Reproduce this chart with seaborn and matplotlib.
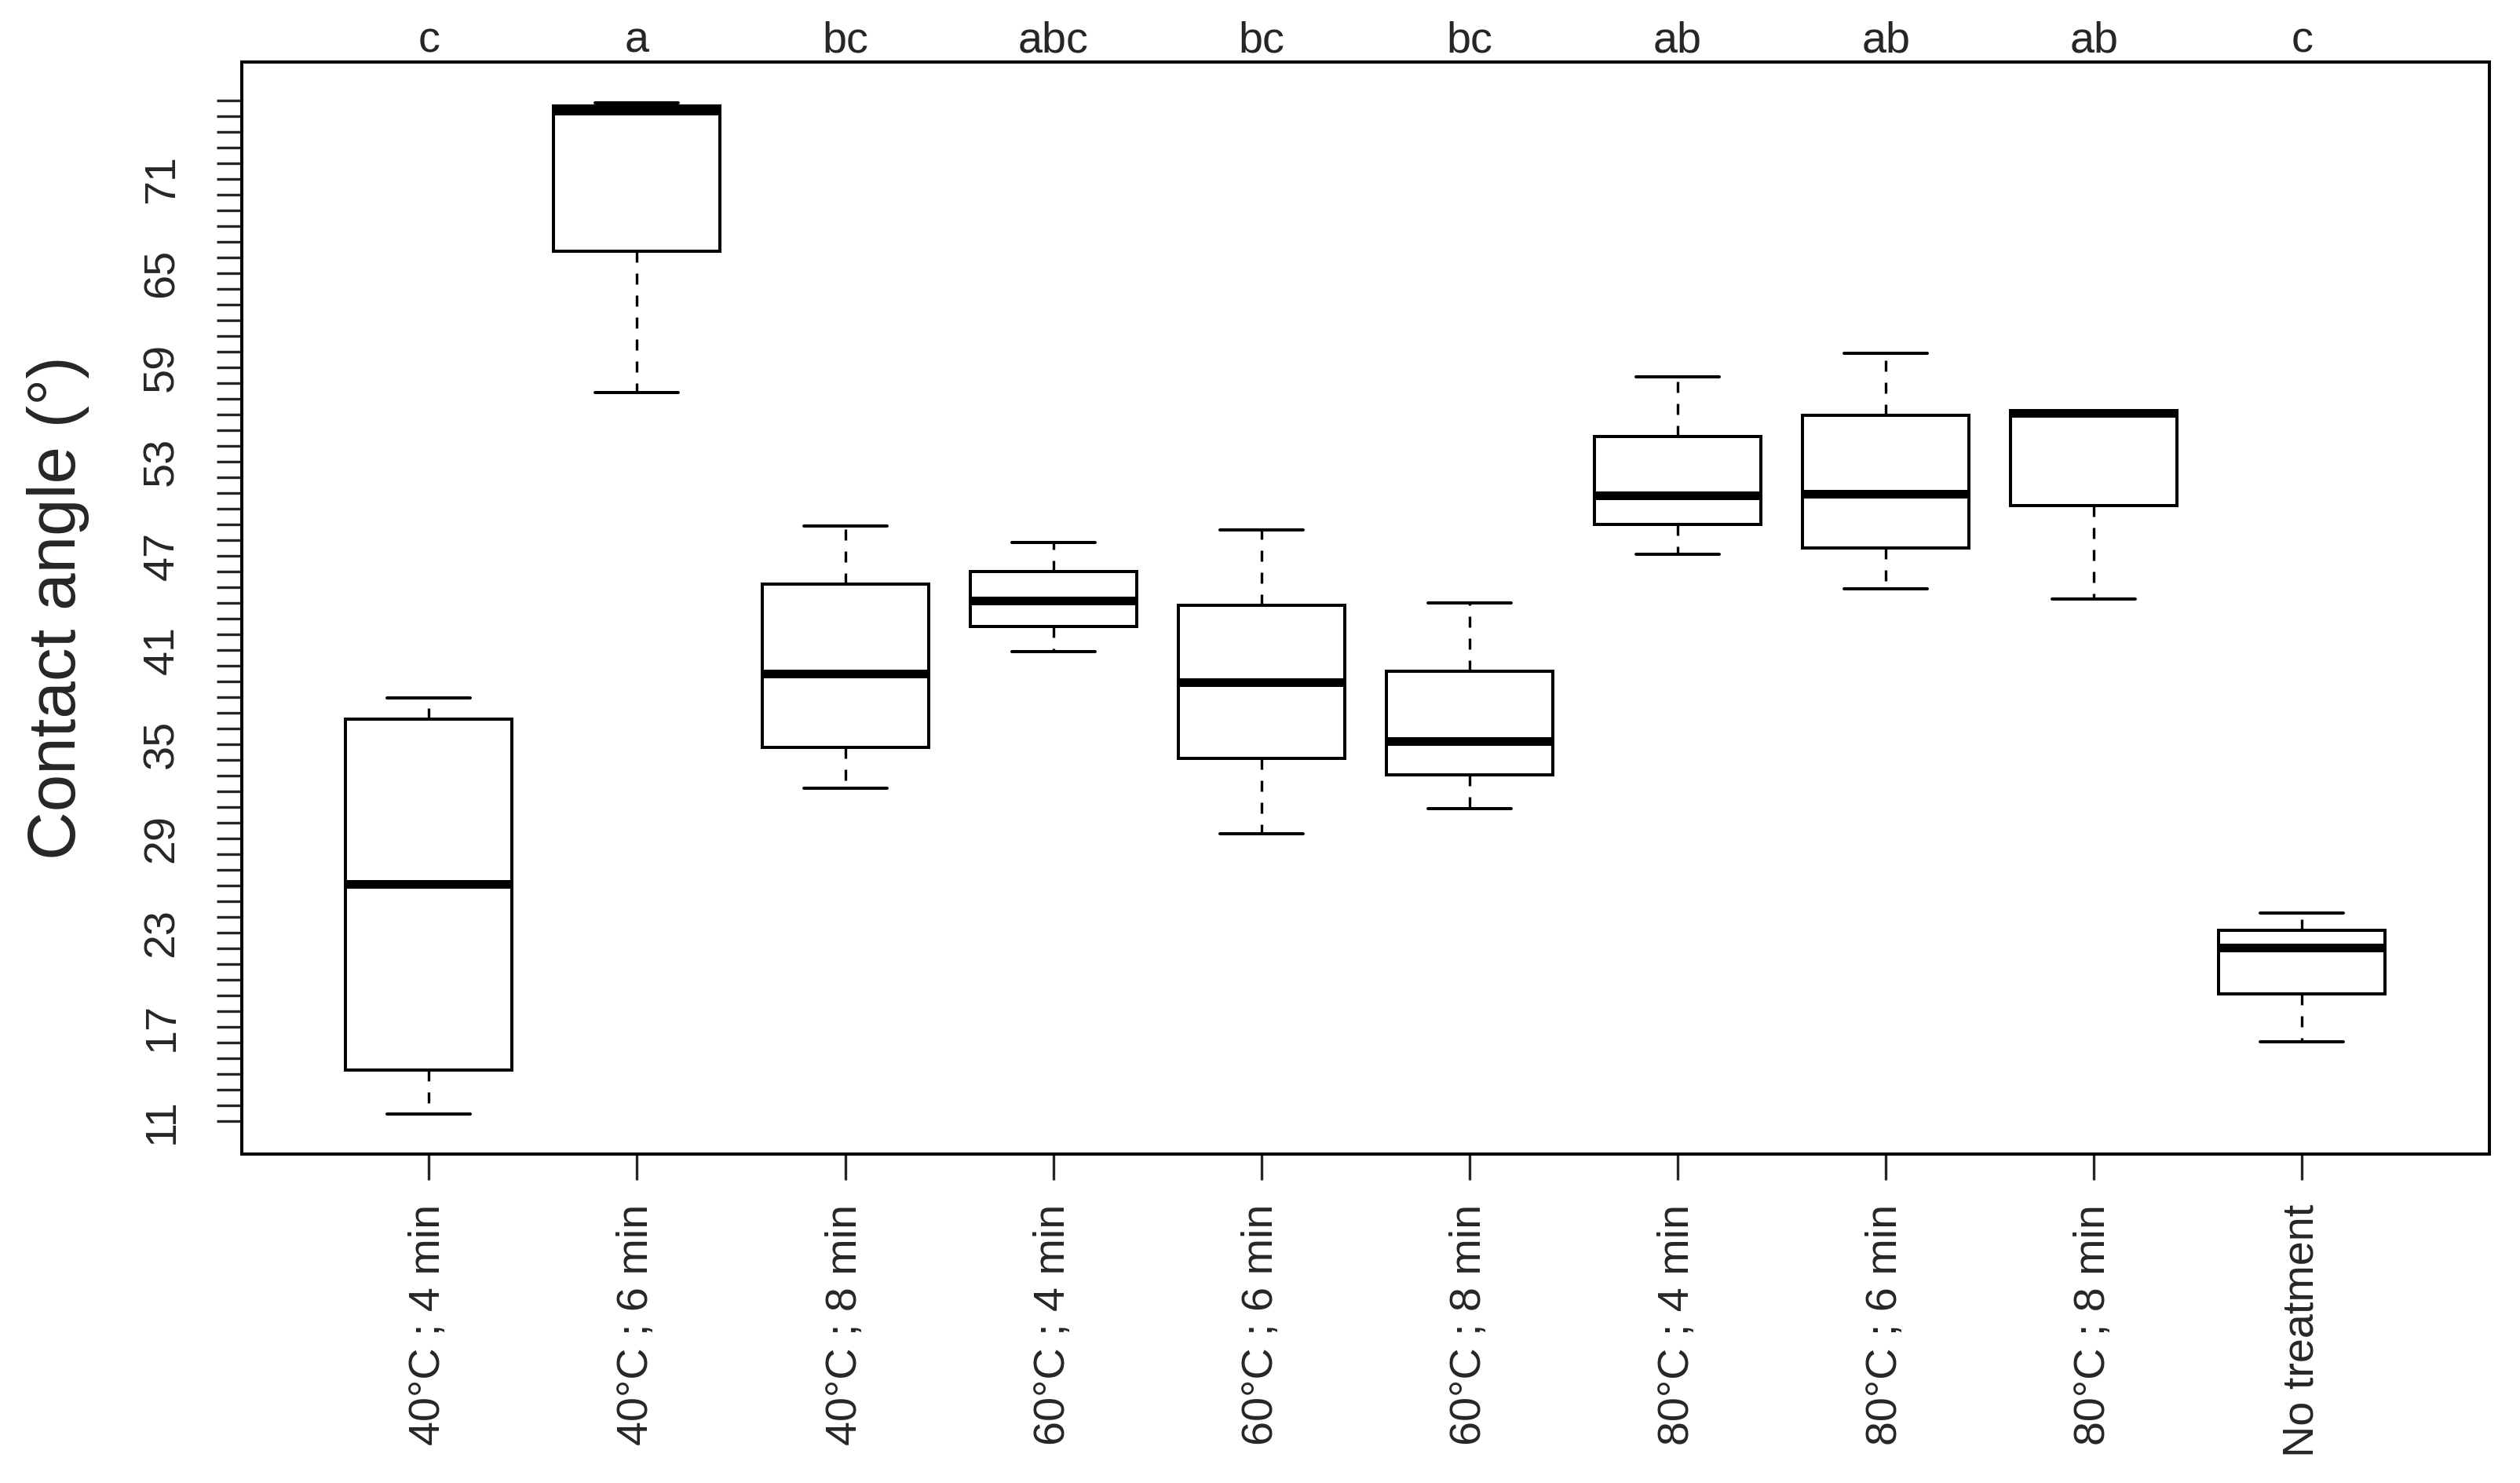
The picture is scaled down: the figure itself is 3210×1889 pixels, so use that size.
import matplotlib
matplotlib.use("Agg")
import matplotlib.pyplot as plt
import matplotlib.ticker as mticker
import numpy as np
import pandas as pd
import seaborn as sns

# treatments, in plotting order
groups = ["40°C ; 4 min", "40°C ; 6 min", "40°C ; 8 min",
          "60°C ; 4 min", "60°C ; 6 min", "60°C ; 8 min",
          "80°C ; 4 min", "80°C ; 6 min", "80°C ; 8 min",
          "No treatment"]

# five-number summaries (contact angle, degrees)
mins    = [11.46, 57.4, 32.2, 40.9, 29.3, 30.9, 47.1, 44.9, 44.25, 16.05]
q1s     = [14.23, 66.4, 34.8, 42.5, 34.1, 33.05, 49.0, 47.5, 50.2, 19.1]
medians = [26.1, 75.35, 39.5, 44.15, 38.95, 35.2, 50.85, 50.95, 56.1, 22.05]
q3s     = [36.6, 75.63, 45.2, 46.0, 43.85, 39.65, 54.6, 55.95, 56.22, 23.15]
maxs    = [37.95, 75.85, 48.9, 47.85, 48.65, 44.0, 58.4, 59.9, 56.22, 24.25]

# significance letters shown above each box
letters = ["c", "a", "bc", "abc", "bc", "bc", "ab", "ab", "ab", "c"]

y_ticks = list(range(11, 77))
y_labelled = [11, 17, 23, 29, 35, 41, 47, 53, 59, 65, 71]

# long-form table: with 5 points per group the quartiles land exactly on q1/q3
rows = []
for g, a, b, c, d, e in zip(groups, mins, q1s, medians, q3s, maxs):
    for v in (a, b, c, d, e):
        rows.append({"group": g, "angle": v})
df = pd.DataFrame(rows)

sns.set_style("ticks")
plt.rcParams["font.family"] = ["Liberation Sans", "DejaVu Sans"]

fig = plt.figure(figsize=(10.7, 6.2967), dpi=300)
ax = fig.add_axes([0.09586, 0.2218, 0.89199, 0.7362])

sns.boxplot(data=df, x="group", y="angle", order=groups, ax=ax,
            color="white", linecolor="black", linewidth=0.96, width=0.8,
            whis=np.inf, fliersize=0, saturation=1,
            medianprops=dict(linewidth=2.64, solid_capstyle="butt"),
            whiskerprops=dict(linewidth=0.8, linestyle=(0, (4.2, 4.2))),
            capprops=dict(linewidth=0.96, solid_capstyle="round"))

ax.set_xlim(-0.9, 9.9)
ax.set_ylim(8.885, 78.42)

ax.yaxis.set_major_locator(mticker.FixedLocator(y_ticks))
ax.set_yticklabels([str(v) if v in y_labelled else "" for v in y_ticks],
                   rotation=90, va="center", fontsize=13.4)
ax.tick_params(axis="y", length=7.7, width=0.8, pad=10.3)
ax.tick_params(axis="x", length=8.0, width=0.8, pad=7.3)
ax.set_xticks(range(len(groups)))
ax.set_xticklabels(groups, rotation=90, fontsize=13.4)

ax.set_xlabel("")
ax.set_ylabel("Contact angle (°)", fontsize=20.5)
ax.yaxis.set_label_coords(-0.0816, 0.5)
ax.yaxis.label.set_verticalalignment("center")

for s in ax.spines.values():
    s.set_visible(True)
    s.set_linewidth(0.96)
    s.set_color("black")

for i, lab in enumerate(letters):
    ax.annotate(lab, xy=(i, 1), xycoords=("data", "axes fraction"),
                xytext=(0, 3.2), textcoords="offset points",
                ha="center", va="baseline", fontsize=13.4)

fig.savefig("out.png", dpi=300)
